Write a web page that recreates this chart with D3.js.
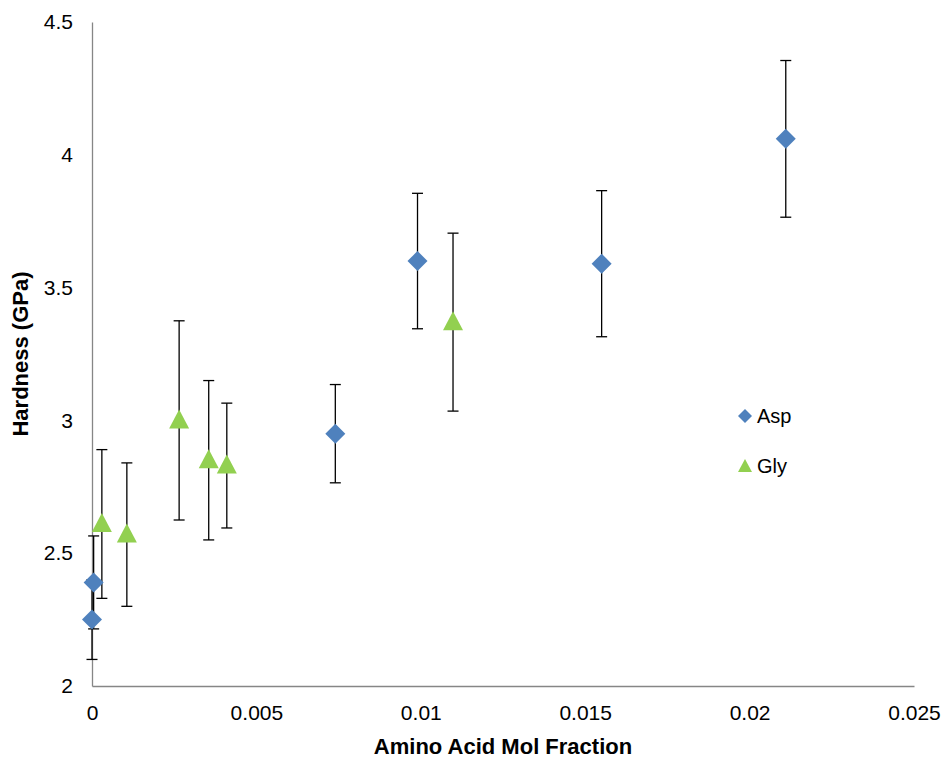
<!DOCTYPE html>
<html>
<head>
<meta charset="utf-8">
<script src="https://cdn.jsdelivr.net/npm/d3@7"></script>
<style>
  body { margin: 0; background: #fff; }
  text { font-family: "Liberation Sans", Arial, sans-serif; }
</style>
</head>
<body>
<div id="chart"></div>
<script>
// data
var aspX = [0.0000, 0.00005, 0.0074, 0.0099, 0.0155, 0.0211];
var aspY = [2.25, 2.39, 2.95, 3.60, 3.59, 4.06];
var aspErr = [0.15, 0.175, 0.185, 0.255, 0.275, 0.295];

var glyX = [0.0003, 0.00106, 0.00265, 0.00355, 0.0041, 0.01098];
var glyY = [2.61, 2.57, 3.00, 2.85, 2.83, 3.37];
var glyErr = [0.28, 0.27, 0.375, 0.30, 0.235, 0.335];

var xTicks = [0, 0.005, 0.01, 0.015, 0.02, 0.025];
var yTicks = [2, 2.5, 3, 3.5, 4, 4.5];

var width = 948, height = 759;
var margin = {top: 22, right: 34, bottom: 73, left: 92};

var svg = d3.select("#chart")
            .append("svg")
                .attr("width", width)
                .attr("height", height);

var x = d3.scaleLinear().domain([0, 0.025]).range([margin.left, width - margin.right]);
var y = d3.scaleLinear().domain([2, 4.5]).range([height - margin.bottom, margin.top]);

// axes
var xAxis = svg.append("g")
    .attr("transform", "translate(0," + y(2) + ")")
    .call(d3.axisBottom(x).tickValues(xTicks).tickSize(0).tickPadding(19)
        .tickFormat(function(d) { return d === 0 ? "0" : String(+d.toFixed(3)); }));
var yAxis = svg.append("g")
    .attr("transform", "translate(" + x(0) + ",0)")
    .call(d3.axisLeft(y).tickValues(yTicks).tickSize(0).tickPadding(19)
        .tickFormat(function(d) { return String(d); }));

[xAxis, yAxis].forEach(function(a) {
    a.select(".domain").attr("stroke", "#868686").attr("stroke-width", 1.3);
    a.selectAll("text").attr("font-size", 21).attr("fill", "#000")
        .style("font-family", "'Liberation Sans', Arial, sans-serif");
});

svg.append("text")
    .attr("x", 503)
    .attr("y", 754)
    .attr("text-anchor", "middle")
    .attr("font-size", 22)
    .attr("font-weight", "bold")
    .text("Amino Acid Mol Fraction");

svg.append("text")
    .attr("transform", "translate(28,354) rotate(-90)")
    .attr("text-anchor", "middle")
    .attr("font-size", 22)
    .attr("font-weight", "bold")
    .text("Hardness (GPa)");

function errorBars(xs, ys, es) {
    var g = svg.append("g").attr("stroke", "#000").attr("stroke-width", 1.3);
    xs.forEach(function(d, i) {
        var px = x(d), lo = y(ys[i] - es[i]), hi = y(ys[i] + es[i]);
        g.append("line").attr("x1", px).attr("x2", px).attr("y1", lo).attr("y2", hi);
        g.append("line").attr("x1", px - 5.5).attr("x2", px + 5.5).attr("y1", lo).attr("y2", lo);
        g.append("line").attr("x1", px - 5.5).attr("x2", px + 5.5).attr("y1", hi).attr("y2", hi);
    });
}
errorBars(aspX, aspY, aspErr);
errorBars(glyX, glyY, glyErr);

var diamond = "M0,-10L10,0L0,10L-10,0Z";
var triangle = "M0,-10L10,9L-10,9Z";

svg.append("g").selectAll("path")
    .data(aspX)
    .join("path")
        .attr("d", diamond)
        .attr("fill", "#4F81BD")
        .attr("transform", function(d, i) { return "translate(" + x(d) + "," + y(aspY[i]) + ")"; });

svg.append("g").selectAll("path")
    .data(glyX)
    .join("path")
        .attr("d", triangle)
        .attr("fill", "#92D050")
        .attr("transform", function(d, i) { return "translate(" + x(d) + "," + (y(glyY[i]) - 1) + ")"; });

// legend
var legend = svg.append("g").attr("transform", "translate(745,416)");
legend.append("path").attr("d", "M0,-7L7,0L0,7L-7,0Z").attr("fill", "#4F81BD");
legend.append("text").attr("x", 12).attr("y", 7).attr("font-size", 20).text("Asp");
legend.append("path").attr("d", "M0,-7L7,6L-7,6Z").attr("fill", "#92D050").attr("transform", "translate(0,50)");
legend.append("text").attr("x", 12).attr("y", 57).attr("font-size", 20).text("Gly");
</script>
</body>
</html>
